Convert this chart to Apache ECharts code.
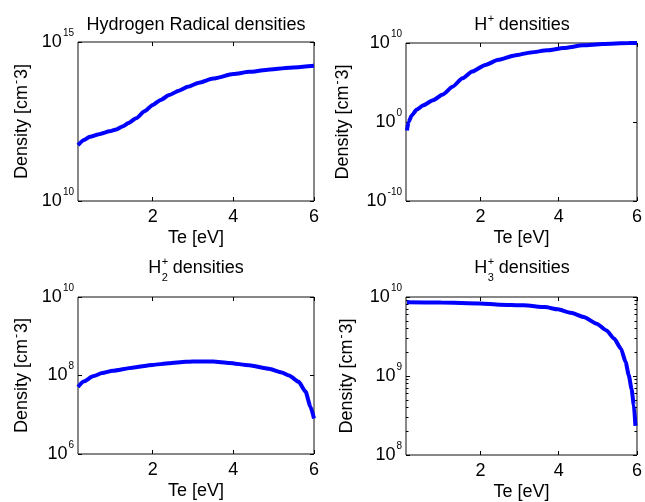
<!DOCTYPE html>
<html><head><meta charset="utf-8">
<script src="https://cdn.jsdelivr.net/npm/echarts@6/dist/echarts.min.js"></script>
<style>html,body{margin:0;padding:0;background:#fff}#c{width:645px;height:502px}</style>
</head><body><div id="c"></div>
<script>
// ---------- data ----------
const xTicks = [2, 4, 6];

const teRadical = [0.15, 0.30, 0.44, 0.70, 0.93, 1.10, 1.25, 1.40, 1.59, 1.80, 2.00, 2.20, 2.41, 2.65, 2.87, 3.15, 3.50, 4.00, 4.40, 4.81, 5.40, 6.00];
const nRadical  = [5.75e11, 8.3e11, 1.05e12, 1.29e12, 1.55e12, 1.78e12, 2.19e12, 2.82e12, 3.98e12, 6.6e12, 1.05e13, 1.51e13, 2.14e13, 2.95e13, 3.89e13, 5.25e13, 7.08e13, 9.77e13, 1.15e14, 1.32e14, 1.55e14, 1.78e14];

const teHplus = [0.125, 0.165, 0.25, 0.375, 0.54, 0.79, 1.04, 1.29, 1.54, 1.79, 2.125, 2.46, 2.875, 3.29, 3.71, 4.125, 4.625, 5.125, 5.79, 6.00];
const nHplus  = [8.5e-2, 1.0, 7.1, 37, 132, 575, 3.1e3, 2.95e4, 3.4e5, 2.45e6, 1.7e7, 7.4e7, 2.7e8, 6.5e8, 1.17e9, 2.3e9, 5.1e9, 7.4e9, 9.8e9, 1.0e10];

const teH2plus = [0.15, 0.30, 0.52, 0.75, 1.01, 1.50, 2.00, 2.40, 2.82, 3.20, 3.50, 3.90, 4.39, 4.88, 5.20, 5.38, 5.62, 5.79, 5.91, 6.00];
const nH2plus  = [5.1e7, 7.1e7, 9.5e7, 1.15e8, 1.32e8, 1.58e8, 1.86e8, 2.04e8, 2.24e8, 2.29e8, 2.29e8, 2.09e8, 1.82e8, 1.48e8, 1.2e8, 1.0e8, 6.9e7, 3.9e7, 1.62e7, 8.0e6];

const teH3plus = [0.125, 1.00, 2.00, 2.49, 3.11, 3.65, 3.98, 4.31, 4.64, 4.97, 5.22, 5.42, 5.59, 5.71, 5.79, 5.86, 5.92, 5.96];
const nH3plus  = [8.55e9, 8.5e9, 8.3e9, 8.0e9, 7.85e9, 7.46e9, 6.98e9, 6.32e9, 5.58e9, 4.59e9, 3.78e9, 2.96e9, 2.22e9, 1.50e9, 1.02e9, 6.9e8, 4.26e8, 2.33e8];

const yTicksRadical = [1e10, 9.99999e14];
const yTicksHplus   = [1e-10, 1, 1e10];
const yTicksH2plus  = [1e6, 1e8, 1e10];
const yTicksH3plus  = [1e8, 1e9, 1e10];
const yMinorH3plus  = [2e8, 3e8, 4e8, 5e8, 6e8, 7e8, 8e8, 9e8, 2e9, 3e9, 4e9, 5e9, 6e9, 7e9, 8e9, 9e9];

const xLabel = 'Te [eV]';
const yLabel = '{n|Density [cm}{s|-}{n|3]}';

// ---------- layout ----------
const FONT = '"Liberation Sans", Arial, sans-serif';
const panels = [
  {grid: {left: 78,  top: 42,  width: 236, height: 159}, xmin: 0.15, te: teRadical, n: nRadical, ymin: 1e10, ymax: 1e15, yt: yTicksRadical, gap: 45},
  {grid: {left: 406, top: 43,  width: 236, height: 158}, xmin: 0.1,  te: teHplus,   n: nHplus,   ymin: 1e-10, ymax: 1e10, yt: yTicksHplus, gap: 52},
  {grid: {left: 78,  top: 297, width: 236, height: 157}, xmin: 0.15, te: teH2plus,  n: nH2plus,  ymin: 1e6, ymax: 1e10, yt: yTicksH2plus, gap: 45},
  {grid: {left: 406, top: 297, width: 236, height: 158}, xmin: 0.1,  te: teH3plus,  n: nH3plus,  ymin: 1e8, ymax: 1e10, yt: yTicksH3plus, gap: 48, minor: yMinorH3plus}
];

const grid = [], xAxis = [], yAxis = [], series = [];
const tickStyle = {color: '#000', width: 1};
panels.forEach((p, i) => {
  grid.push(Object.assign({show: true, borderColor: '#111', borderWidth: 1, backgroundColor: '#fff'}, p.grid));
  const xi = xAxis.length;
  xAxis.push({
    type: 'value', gridIndex: i, min: p.xmin, max: 6, position: 'bottom',
    axisLine: {show: false}, splitLine: {show: false},
    axisTick: {inside: true, length: 4, lineStyle: tickStyle, customValues: xTicks},
    axisLabel: {customValues: xTicks, color: '#000', fontSize: 18, fontFamily: FONT, margin: 7},
    name: xLabel, nameLocation: 'middle', nameGap: 28,
    nameTextStyle: {color: '#000', fontSize: 18, fontFamily: FONT}
  });
  xAxis.push({
    type: 'value', gridIndex: i, min: p.xmin, max: 6, position: 'top',
    axisLine: {show: false}, splitLine: {show: false}, axisLabel: {show: false},
    axisTick: {inside: true, length: 4, lineStyle: tickStyle, customValues: xTicks}
  });
  const yi = yAxis.length;
  const rich = {
    b: {fontSize: 18, fontFamily: FONT, color: '#000'},
    e: {fontSize: 10, fontFamily: FONT, color: '#000', padding: [0, 0, 18, 1]}
  };
  yAxis.push({
    type: 'log', logBase: 10, gridIndex: i, min: p.ymin, max: p.ymax, position: 'left',
    axisLine: {show: false}, splitLine: {show: false}, minorTick: {show: false},
    axisTick: {inside: true, length: 4, lineStyle: tickStyle, customValues: p.yt},
    axisLabel: {customValues: p.yt, margin: 4, rich: rich,
      formatter: v => '{b|10}{e|' + Math.round(Math.log10(v)) + '}'},
    name: yLabel, nameLocation: 'middle', nameGap: p.gap,
    nameTextStyle: {color: '#000', fontSize: 18, fontFamily: FONT,
      rich: {n: {fontSize: 18, fontFamily: FONT, color: '#000'},
             s: {fontSize: 12, fontFamily: FONT, color: '#000', padding: [0, 1, 10, 1]}}}
  });
  yAxis.push({
    type: 'log', logBase: 10, gridIndex: i, min: p.ymin, max: p.ymax, position: 'right',
    axisLine: {show: false}, splitLine: {show: false}, axisLabel: {show: false},
    axisTick: {inside: true, length: 4, lineStyle: tickStyle, customValues: p.yt}
  });
  if (p.minor) {
    ['left', 'right'].forEach(pos => yAxis.push({
      type: 'log', logBase: 10, gridIndex: i, min: p.ymin, max: p.ymax, position: pos,
      axisLine: {show: false}, splitLine: {show: false}, axisLabel: {show: false},
      axisTick: {inside: true, length: 2.5, lineStyle: tickStyle, customValues: p.minor}
    }));
  }
  series.push({
    type: 'line', xAxisIndex: xi, yAxisIndex: yi, showSymbol: false, symbol: 'none',
    smooth: 0.2, smoothMonotone: 'x',
    lineStyle: {color: '#0000ff', width: 4}, animation: false,
    data: p.te.map((t, k) => [t, p.n[k]])
  });
});

// ---------- titles with super/subscripts ----------
const ctx = document.createElement('canvas').getContext('2d');
function measure(t, size) { ctx.font = size + 'px ' + FONT; return ctx.measureText(t).width; }
function title(cx, cy, base, sup, sub, rest) {
  const els = [];
  const st = (t, s) => ({text: t, fontSize: s, fontFamily: FONT, fill: '#000', verticalAlign: 'middle', align: 'left'});
  if (!sup) {
    els.push({type: 'text', x: cx, y: cy, style: Object.assign(st(base, 18), {align: 'center'})});
    return els;
  }
  const w1 = measure(base, 18);
  const ws = Math.max(measure(sup, 11), sub ? measure(sub, 11) : 0);
  const w2 = measure(rest, 18);
  const x0 = cx - (w1 + ws + w2) / 2;
  els.push({type: 'text', x: x0, y: cy, style: st(base, 18)});
  els.push({type: 'text', x: x0 + w1 + 0.5, y: cy - 6, style: st(sup, 11)});
  if (sub) els.push({type: 'text', x: x0 + w1 + 0.5, y: cy + 10, style: st(sub, 11)});
  els.push({type: 'text', x: x0 + w1 + ws, y: cy, style: st(rest, 18)});
  return els;
}
const graphic = [].concat(
  title(196, 25, 'Hydrogen Radical densities'),
  title(522, 25, 'H', '+', null, ' densities'),
  title(196, 268, 'H', '+', '2', ' densities'),
  title(522, 268, 'H', '+', '3', ' densities')
);

const chart = echarts.init(document.getElementById('c'), null, {renderer: 'canvas'});
chart.setOption({animation: false, backgroundColor: '#fff', grid, xAxis, yAxis, series, graphic});
</script>
</body></html>
